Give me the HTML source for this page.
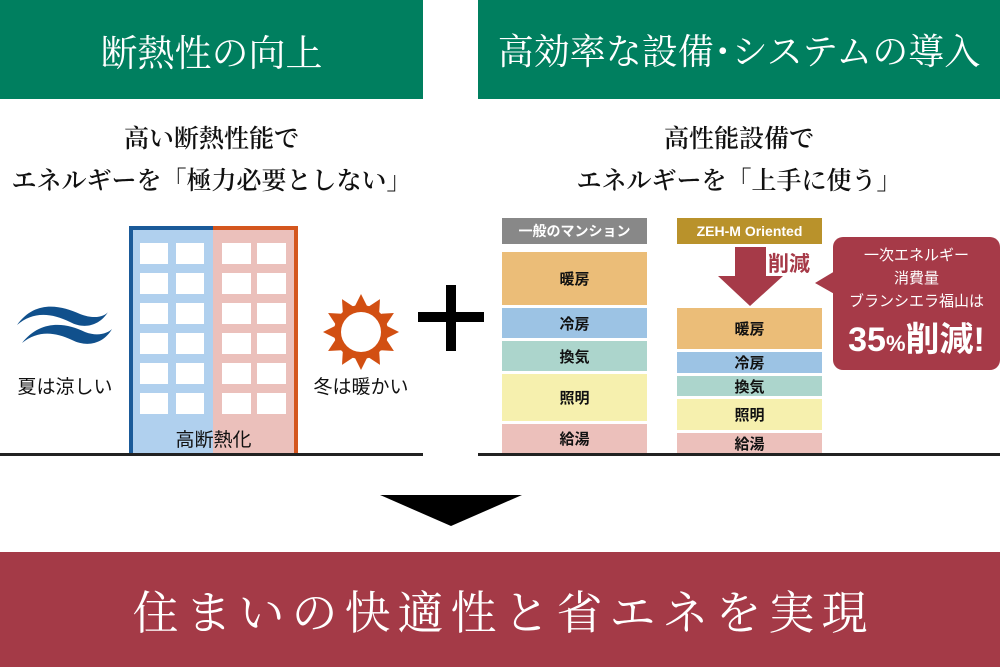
<!DOCTYPE html>
<html><head><meta charset="utf-8"><style>
body{margin:0;width:1000px;height:667px;overflow:hidden;background:#fff;position:relative;font-family:"Liberation Sans","Noto Sans CJK JP",sans-serif}
.a{position:absolute}
.ser{font-family:"Liberation Serif","Noto Serif CJK SC",serif}
.hd{background:#007f5f;color:#fff;top:0;height:99px;display:flex;align-items:center;justify-content:center;font-size:36px}
.sub{font-size:25px;color:#111;text-align:center;line-height:42px;top:119px;font-weight:600}
.bar{display:flex;align-items:center;justify-content:center;font-size:15px;color:#111;font-weight:bold}
</style></head><body>
<div class="a hd ser" style="left:0;width:423px;font-size:37px">断熱性の向上</div>
<div class="a hd ser" style="left:478px;width:522px">高効率な設備･システムの導入</div>
<div class="a sub ser" style="left:0;width:423px">高い断熱性能で<br>エネルギーを「極力必要としない」</div>
<div class="a sub ser" style="left:478px;width:522px;">高性能設備で<br>エネルギーを「上手に使う」</div>

<div class="a" style="left:129px;top:226px;width:84px;height:229px;background:#b0d0ee;border-left:4px solid #1a5a99;border-top:4px solid #1a5a99;box-sizing:border-box"></div>
<div class="a" style="left:213px;top:226px;width:85px;height:229px;background:#ebc0bb;border-right:4px solid #d4561e;border-top:4px solid #d4561e;box-sizing:border-box"></div>
<svg class="a" style="left:0;top:0" width="1000" height="667">
<g fill="#fff">
<rect x="140" y="243" width="28" height="21"/><rect x="176" y="243" width="28" height="21"/><rect x="222" y="243" width="29" height="21"/><rect x="257" y="243" width="29" height="21"/>
<rect x="140" y="273" width="28" height="21"/><rect x="176" y="273" width="28" height="21"/><rect x="222" y="273" width="29" height="21"/><rect x="257" y="273" width="29" height="21"/>
<rect x="140" y="303" width="28" height="21"/><rect x="176" y="303" width="28" height="21"/><rect x="222" y="303" width="29" height="21"/><rect x="257" y="303" width="29" height="21"/>
<rect x="140" y="333" width="28" height="21"/><rect x="176" y="333" width="28" height="21"/><rect x="222" y="333" width="29" height="21"/><rect x="257" y="333" width="29" height="21"/>
<rect x="140" y="363" width="28" height="21"/><rect x="176" y="363" width="28" height="21"/><rect x="222" y="363" width="29" height="21"/><rect x="257" y="363" width="29" height="21"/>
<rect x="140" y="393" width="28" height="21"/><rect x="176" y="393" width="28" height="21"/><rect x="222" y="393" width="29" height="21"/><rect x="257" y="393" width="29" height="21"/>
</g>
<path d="M17,325 C35,300 60,305 80,314 C95,320 105,316 108,312 C100,325 85,330 70,322 C50,312 32,312 17,325Z" fill="#10508c"/>
<path d="M22,343 C40,320 65,322 85,332 C98,337 108,333 112,329 C104,343 88,348 72,340 C55,332 38,330 22,343Z" fill="#10508c"/>
<g transform="translate(361,332)" fill="#d24f12">
<circle r="27"/>
<polygon points="0,-38 6,-26 -6,-26"/><polygon points="0,38 6,26 -6,26"/><polygon points="-38,0 -26,6 -26,-6"/><polygon points="38,0 26,6 26,-6"/>
<g transform="rotate(30)"><polygon points="0,-38 6,-26 -6,-26"/><polygon points="0,38 6,26 -6,26"/><polygon points="-38,0 -26,6 -26,-6"/><polygon points="38,0 26,6 26,-6"/></g>
<g transform="rotate(60)"><polygon points="0,-38 6,-26 -6,-26"/><polygon points="0,38 6,26 -6,26"/><polygon points="-38,0 -26,6 -26,-6"/><polygon points="38,0 26,6 26,-6"/></g>
<circle r="20" fill="#fff"/>
</g>
<rect x="418" y="312" width="66" height="10" fill="#000"/>
<rect x="446" y="285" width="10" height="66" fill="#000"/>
<rect x="0" y="453" width="423" height="3" fill="#222"/>
<rect x="478" y="453" width="522" height="3" fill="#222"/>
<polygon points="380,495 522,495 451,526" fill="#000"/>
<rect x="735" y="247" width="31" height="30" fill="#a63a48"/>
<polygon points="718,276 783,276 750,306" fill="#a63a48"/>
<rect x="833" y="237" width="167" height="133" rx="10" fill="#a63a48"/>
<polygon points="815,283 845,265 845,300" fill="#a63a48"/>
</svg>
<div class="a" style="left:0;top:372px;width:130px;text-align:center;font-size:19px;color:#111">夏は涼しい</div>
<div class="a" style="left:305px;top:372px;width:112px;text-align:center;font-size:19px;color:#111">冬は暖かい</div>
<div class="a" style="left:129px;top:425px;width:169px;text-align:center;font-size:19px;color:#111">高断熱化</div>

<div class="a bar" style="left:502px;top:218px;width:145px;height:26px;background:#888;color:#fff;font-size:14px">一般のマンション</div>
<div class="a bar" style="left:502px;top:252px;width:145px;height:53px;background:#ebbd78">暖房</div>
<div class="a bar" style="left:502px;top:308px;width:145px;height:30px;background:#9cc3e4">冷房</div>
<div class="a bar" style="left:502px;top:341px;width:145px;height:30px;background:#acd5cc">換気</div>
<div class="a bar" style="left:502px;top:374px;width:145px;height:47px;background:#f6f0ae">照明</div>
<div class="a bar" style="left:502px;top:424px;width:145px;height:29px;background:#ecc0bb">給湯</div>

<div class="a bar" style="left:677px;top:218px;width:145px;height:26px;background:#b9922b;color:#fff;font-size:14px">ZEH-M Oriented</div>
<div class="a bar" style="left:677px;top:308px;width:145px;height:41px;background:#ebbd78">暖房</div>
<div class="a bar" style="left:677px;top:352px;width:145px;height:21px;background:#9cc3e4">冷房</div>
<div class="a bar" style="left:677px;top:376px;width:145px;height:20px;background:#acd5cc">換気</div>
<div class="a bar" style="left:677px;top:399px;width:145px;height:31px;background:#f6f0ae">照明</div>
<div class="a bar" style="left:677px;top:433px;width:145px;height:20px;background:#ecc0bb">給湯</div>
<div class="a" style="left:768px;top:248px;font-size:21px;font-weight:bold;color:#a63a48">削減</div>
<div class="a" style="left:833px;top:244px;width:167px;text-align:center;color:#fff;font-size:15px;line-height:23px">一次エネルギー<br>消費量<br>ブランシエラ福山は</div>
<div class="a" style="left:833px;top:320px;width:167px;text-align:center;color:#fff;font-size:34px;font-weight:bold;line-height:40px">35<span style="font-size:22px">%</span>削減!</div>

<div class="a ser" style="left:0;top:552px;width:1000px;height:115px;background:#a43a47;color:#fff;font-size:46px;display:flex;align-items:center;justify-content:center;letter-spacing:7px;text-indent:7px">住まいの快適性と省エネを実現</div>
</body></html>
